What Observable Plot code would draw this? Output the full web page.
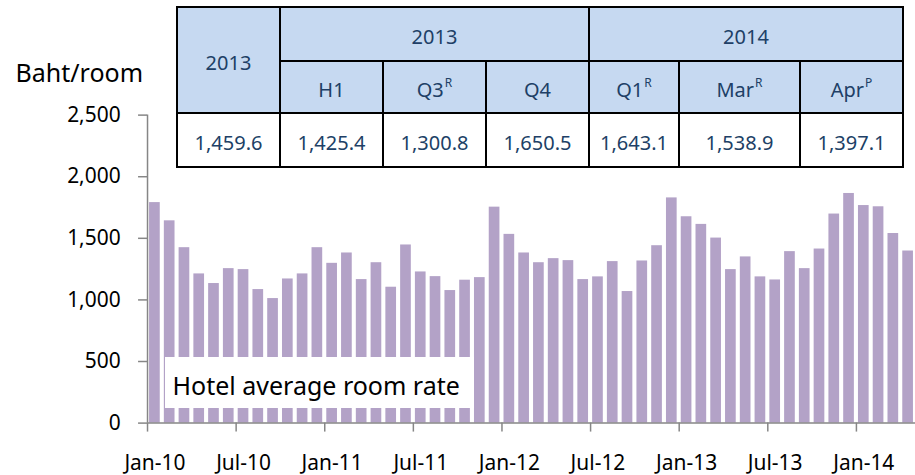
<!DOCTYPE html>
<html>
<head>
<meta charset="utf-8">
<script src="https://cdn.jsdelivr.net/npm/d3@7"></script>
<script src="https://cdn.jsdelivr.net/npm/@observablehq/plot@0.6"></script>
<style>
  html, body { margin: 0; padding: 0; background: #fff; overflow: hidden; }
  #wrap { position: relative; width: 915px; height: 475px; overflow: hidden; font-family: "Noto Sans", sans-serif; }
  #chart { position: absolute; left: 0; top: 0; }
  .ylab { position: absolute; left: 15.5px; top: 59.5px; font-size: 25px; line-height: 25px; color: #000; white-space: nowrap; }
  .note { position: absolute; left: 165px; top: 357px; width: 309px; height: 51px; background: #fff; box-sizing: border-box;
          padding-left: 7.5px; padding-top: 15.5px; font-size: 25px; line-height: 25px; color: #000; white-space: nowrap; }
  .cell { position: absolute; box-sizing: border-box; border: 2px solid #000; display: flex; align-items: center; justify-content: center;
          padding-top: 7px; font-size: 20px; line-height: 20px; color: #203f66; white-space: nowrap; }
  .head { background: #c6d9f1; }
  .body { background: #fff; }
  .cell sup { font-size: 12px; line-height: 0; position: relative; top: -7px; vertical-align: baseline; margin-left: 1px; }
</style>
</head>
<body>
<div id="wrap">
  <div id="chart"></div>
  <div class="ylab">Baht/room</div>
  <div class="note">Hotel average room rate</div>
</div>
<script>
// ---- Data ----
const months = [
  "Jan-10","Feb-10","Mar-10","Apr-10","May-10","Jun-10","Jul-10","Aug-10","Sep-10","Oct-10","Nov-10","Dec-10",
  "Jan-11","Feb-11","Mar-11","Apr-11","May-11","Jun-11","Jul-11","Aug-11","Sep-11","Oct-11","Nov-11","Dec-11",
  "Jan-12","Feb-12","Mar-12","Apr-12","May-12","Jun-12","Jul-12","Aug-12","Sep-12","Oct-12","Nov-12","Dec-12",
  "Jan-13","Feb-13","Mar-13","Apr-13","May-13","Jun-13","Jul-13","Aug-13","Sep-13","Oct-13","Nov-13","Dec-13",
  "Jan-14","Feb-14","Mar-14","Apr-14"
];
const roomRate = [
  1790, 1642, 1424, 1211, 1133, 1254, 1246, 1084, 1011, 1170, 1211, 1424,
  1297, 1381, 1165, 1302, 1103, 1446, 1227, 1189, 1076, 1160, 1181, 1753,
  1532, 1381, 1302, 1335, 1319, 1165, 1187, 1311, 1068, 1316, 1440, 1828,
  1675, 1613, 1502, 1246, 1349, 1187, 1162, 1392, 1254, 1413, 1697, 1864,
  1766, 1756, 1539, 1397
];
const xTickLabels = ["Jan-10","Jul-10","Jan-11","Jul-11","Jan-12","Jul-12","Jan-13","Jul-13","Jan-14"];
const yTicks = [0, 500, 1000, 1500, 2000, 2500];

// Table data
const tableYearTop = ["2013"];
const tableGroupYears = ["2013", "2014"];
const tablePeriods = ["H1", "Q3", "Q4", "Q1", "Mar", "Apr"];
const tableMarks = ["", "R", "", "R", "R", "P"];
const tableValues = ["1,459.6", "1,425.4", "1,300.8", "1,650.5", "1,643.1", "1,538.9", "1,397.1"];

// ---- Chart ----
const rows = months.map((m, i) => ({i, month: m, value: roomRate[i]}));
const tickIdx = xTickLabels.map(l => months.indexOf(l));
const axisGray = "#868686";

const chart = Plot.plot({
  width: 918,
  height: 475,
  marginLeft: 147.5,
  marginRight: 0,
  marginTop: 115,
  marginBottom: 51,
  style: {fontFamily: "Noto Sans", fontSize: "21px", color: "#000", background: "transparent", overflow: "visible"},
  x: {domain: [0, months.length], axis: null},
  y: {domain: [0, 2500], axis: null},
  marks: [
    Plot.rectY(rows, {x1: "i", x2: d => d.i + 1, y: "value", insetLeft: 2.05, insetRight: 2.05, fill: "#b3a2c7"}),
    Plot.ruleY([0], {stroke: axisGray, strokeWidth: 1.5}),
    Plot.ruleX([0], {y1: 0, y2: 2500, stroke: axisGray, strokeWidth: 1.5}),
    Plot.axisY({ticks: yTicks, tickSize: 9, tickPadding: 18, tickFormat: d3.format(","), stroke: axisGray, fill: "#000", label: null, strokeWidth: 1.5}),
    Plot.axisX({ticks: tickIdx, tickSize: 9, tickFormat: () => "", stroke: axisGray, label: null, strokeWidth: 1.5}),
    Plot.axisX({ticks: tickIdx.map(i => i + 0.5), tickSize: 0, tickPadding: 32, tickFormat: d => months[Math.round(d - 0.5)], fill: "#000", label: null})
  ]
});
document.getElementById("chart").appendChild(chart);

// ---- Table overlay ----
const colX = [177, 280, 383, 486, 589, 679, 800, 903];
const rowY = [6.7, 60.7, 113.3, 166.7];
const wrap = document.getElementById("wrap");
function cell(c0, c1, r0, r1, html, cls) {
  const d = document.createElement("div");
  d.className = "cell " + cls;
  d.style.left = (colX[c0] - 1) + "px";
  d.style.top = (rowY[r0] - 1) + "px";
  d.style.width = (colX[c1] - colX[c0] + 2) + "px";
  d.style.height = (rowY[r1] - rowY[r0] + 2) + "px";
  d.innerHTML = html;
  wrap.appendChild(d);
}
cell(0, 1, 0, 2, tableYearTop[0], "head");
cell(1, 4, 0, 1, tableGroupYears[0], "head");
cell(4, 7, 0, 1, tableGroupYears[1], "head");
tablePeriods.forEach((p, k) => {
  cell(k + 1, k + 2, 1, 2, p + (tableMarks[k] ? "<sup>" + tableMarks[k] + "</sup>" : ""), "head");
});
tableValues.forEach((v, k) => cell(k, k + 1, 2, 3, v, "body"));
</script>
</body>
</html>
